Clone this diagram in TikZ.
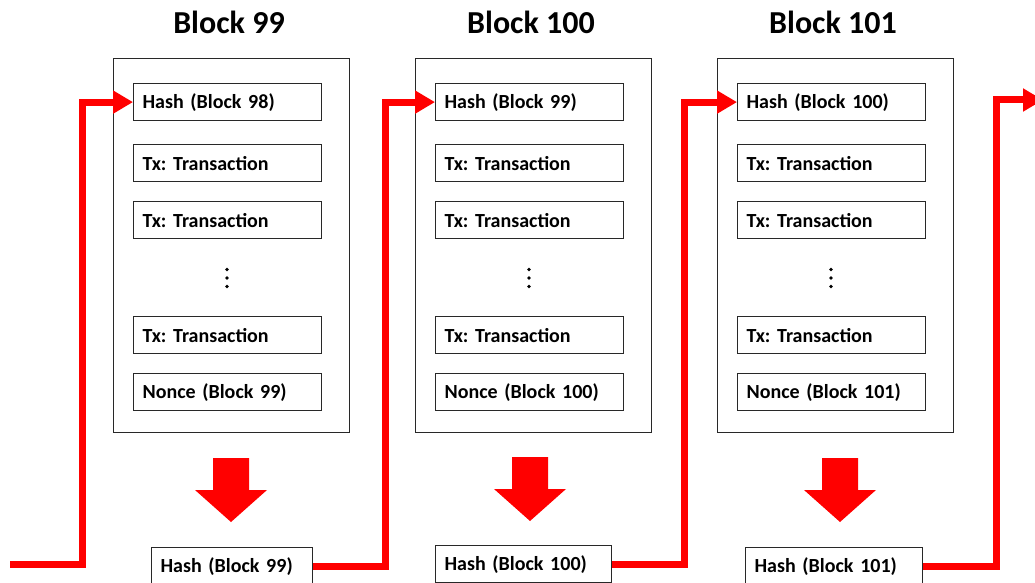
\documentclass[tikz,border=0pt]{standalone}
\usepackage{fontspec}
\setmainfont{Carlito}
\usetikzlibrary{arrows.meta}
\definecolor{chainred}{RGB}{255,0,0}
\definecolor{frame}{RGB}{40,40,40}
\tikzset{
  blockbox/.style={draw=frame, line width=1.2pt, minimum width=236pt, minimum height=374pt, inner sep=0pt},
  cell/.style={draw=frame, line width=1.2pt, minimum height=37pt, text width=170pt, inner xsep=9pt, inner ysep=0pt,
    align=left, font=\fontsize{20}{22}\selectfont\bfseries, anchor=north west},
  outcell/.style={draw=frame, line width=1.2pt, minimum height=37pt, text width=#1, inner xsep=9pt, inner ysep=0pt,
    align=left, font=\fontsize{20}{22}\selectfont\bfseries, anchor=north west},
  title/.style={font=\fontsize{32}{34}\selectfont\bfseries},
  dot/.style={fill=black},
  link/.style={draw=chainred, line width=7pt, -{Triangle[length=20pt,width=22pt]}},
  blockarrow/.style={fill=chainred},
}
\newcommand{\downarrowat}[1]{%
  \fill[blockarrow] (#1) ++(-18,0) -- ++(36,0) -- ++(0,32) -- ++(18,0) -- ++(-36,32) -- ++(-36,-32) -- ++(18,0) -- cycle;}
\begin{document}
\frenchspacing
\begin{tikzpicture}[x=1pt,y=-1pt]
\useasboundingbox (0,0) rectangle (1035,583);
\begin{scope}
\clip (0,0) rectangle (1035,583);

% three blocks of the chain
\foreach \n/\x/\p in {99/113/98, 100/415/99, 101/717/100}{
  \node[title] (t\n) at (\x+116,22) {Block \n};
  \node[blockbox, anchor=north west] (b\n) at (\x,58) {};
  \node[cell] (h\n) at (\x+20,83) {Hash (Block \p)};
  \node[cell] (tx\n a) at (\x+20,144) {Tx: Transaction};
  \node[cell] (tx\n b) at (\x+20,201) {Tx: Transaction};
  % vertical ellipsis between the transactions
  \coordinate (d\n) at (\x+114,278);
  \fill[dot] (d\n) ++(0,-8.5) circle (1.8);
  \fill[dot] (d\n) circle (1.8);
  \fill[dot] (d\n) ++(0,8.5) circle (1.8);
  \node[cell] (tx\n c) at (\x+20,316) {Tx: Transaction};
  \node[cell] (n\n) at (\x+20,373) {Nonce (Block \n)};
}

% hashing arrows
\coordinate (a99) at (231,458);
\coordinate (a100) at (530,457);
\coordinate (a101) at (840,458);
\downarrowat{a99}
\downarrowat{a100}
\downarrowat{a101}

% resulting hashes
\node[outcell=143pt] (o99) at (151,547) {Hash (Block 99)};
\node[outcell=158pt] (o100) at (435,545) {Hash (Block 100)};
\node[outcell=159pt] (o101) at (745,547) {Hash (Block 101)};

% links from each hash into the next block
\coordinate (start) at (10,564);
\coordinate (next) at (1043,100);
\draw[link] (start) -- ++(72,0) |- (h99.west);
\draw[link] (o99.east) -- ++(72,0) |- (h100.west);
\draw[link] (o100.east) -- ++(72,0) |- (h101.west);
\draw[link] (o101.east) -- ++(73,0) |- (next);
\end{scope}
\end{tikzpicture}
\end{document}
